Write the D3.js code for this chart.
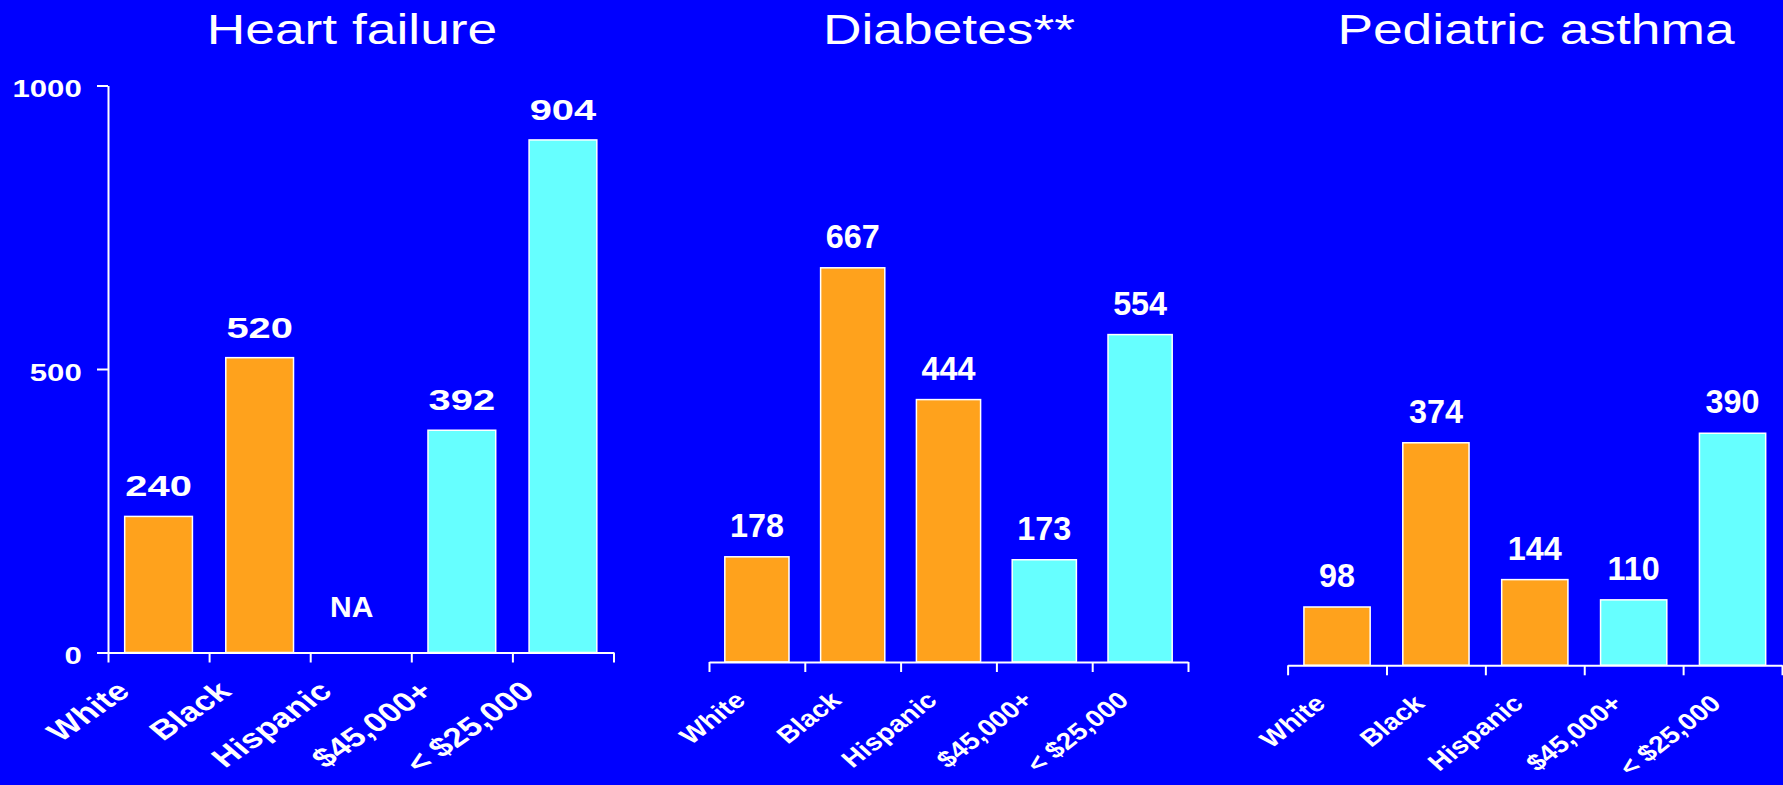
<!DOCTYPE html>
<html>
<head>
<meta charset="utf-8">
<script src="https://cdn.jsdelivr.net/npm/d3@7"></script>
<style>
  body { margin: 0; background: #0000ff; }
  text { font-family: "Liberation Sans", Arial, sans-serif; fill: #ffffff; }
  .axis path, .axis line { stroke: #ffffff; stroke-width: 2; }
</style>
</head>
<body>
<div id="chart"></div>
<script>
// Data
var categories = ["White", "Black", "Hispanic", "$45,000+", "< $25,000"];
var groups = ["race", "race", "race", "income", "income"];
var titles = ["Heart failure", "Diabetes**", "Pediatric asthma"];
var heartFailure = [240, 520, null, 392, 904];
var diabetes = [178, 667, 444, 173, 554];
var pediatricAsthma = [98, 374, 144, 110, 390];
var yTicks = [0, 500, 1000];

var series = [heartFailure, diabetes, pediatricAsthma];

// Layout
var WIDTH = 1783, HEIGHT = 785;
var COLORS = { race: "#ffa21c", income: "#66ffff" };
var PANELS = [
  { x0: 108, x1: 613.5, base: 652.5, top: 85.5, titleX: 352, yAxis: true,
    val: { size: 30, sx: 1.33 }, lab: { size: 27, sx: 1.3, rot: 42, dx: -27, dy: 41 } },
  { x0: 709, x1: 1188, base: 662, top: 71, titleX: 949, yAxis: false,
    val: { size: 33, sx: 0.98 }, lab: { size: 23.5, sx: 1.2, rot: 43, dx: -10, dy: 40 } },
  { x0: 1287.6, x1: 1782, base: 665.3, top: 70.3, titleX: 1536, yAxis: false,
    val: { size: 33, sx: 0.98 }, lab: { size: 23.5, sx: 1.2, rot: 43, dx: -10, dy: 40 } }
];

var svg = d3.select("#chart").append("svg")
  .attr("width", WIDTH)
  .attr("height", HEIGHT);

svg.append("rect")
  .attr("width", WIDTH).attr("height", HEIGHT)
  .attr("fill", "#0000ff");

PANELS.forEach(function(p, k) {
  var values = series[k];
  var g = svg.append("g");

  var x = d3.scaleBand()
    .domain(categories)
    .range([p.x0, p.x1])
    .paddingInner(0.33)
    .paddingOuter(0.165);

  var y = d3.scaleLinear()
    .domain([0, 1000])
    .range([p.base, p.top]);

  // tick positions sit on the band boundaries
  var edges = d3.scaleLinear().domain([0, categories.length]).range([p.x0, p.x1]);

  // title
  g.append("text")
    .attr("transform", "translate(" + p.titleX + ",43.5) scale(1.27,1)")
    .attr("text-anchor", "middle")
    .style("font-size", "42px")
    .text(titles[k]);

  // bars
  g.selectAll("rect.bar")
    .data(categories.map(function(c, i) { return { cat: c, v: values[i], grp: groups[i] }; })
      .filter(function(d) { return d.v != null; }))
    .enter().append("rect")
    .attr("class", "bar")
    .attr("x", function(d) { return x(d.cat); })
    .attr("y", function(d) { return y(d.v); })
    .attr("width", x.bandwidth())
    .attr("height", function(d) { return y(0) - y(d.v); })
    .attr("fill", function(d) { return COLORS[d.grp]; })
    .attr("stroke", "#ffffff")
    .attr("stroke-width", 1.5);

  // value labels
  categories.forEach(function(c, i) {
    var cx = x(c) + x.bandwidth() / 2;
    if (values[i] == null) {
      g.append("text")
        .attr("x", cx - 9)
        .attr("y", p.base - 36)
        .attr("text-anchor", "middle")
        .style("font-size", "30px")
        .style("font-weight", "bold")
        .text("NA");
      return;
    }
    g.append("text")
      .attr("transform", "translate(" + cx + "," + (y(values[i]) - 20) + ") scale(" + p.val.sx + ",1)")
      .attr("text-anchor", "middle")
      .style("font-size", p.val.size + "px")
      .style("font-weight", "bold")
      .text(values[i]);
  });

  // x axis
  g.append("g")
    .attr("class", "axis")
    .attr("transform", "translate(0," + p.base + ")")
    .call(d3.axisBottom(edges)
      .tickValues(d3.range(categories.length + 1))
      .tickSize(10)
      .tickSizeOuter(0)
      .tickFormat(""));

  // rotated category labels
  categories.forEach(function(c) {
    var ax = x(c) + x.bandwidth() / 2 + p.lab.dx;
    var ay = p.base + p.lab.dy;
    g.append("text")
      .attr("transform", "translate(" + ax + "," + ay + ") scale(" + p.lab.sx + ",1) rotate(" + (-p.lab.rot) + ")")
      .attr("text-anchor", "end")
      .style("font-size", p.lab.size + "px")
      .style("font-weight", "bold")
      .text(c);
  });

  // y axis (first panel only)
  if (p.yAxis) {
    var ya = g.append("g")
      .attr("class", "axis")
      .attr("transform", "translate(" + p.x0 + ",0)")
      .call(d3.axisLeft(y)
        .tickValues(yTicks)
        .tickSize(11)
        .tickSizeOuter(0)
        .tickFormat(d3.format("d")));
    ya.selectAll("text")
      .attr("x", null)
      .attr("dy", "0.45em")
      .attr("transform", "translate(-26.3,0) scale(1.27,1)")
      .attr("fill", "#ffffff")
      .style("font-size", "24.5px")
      .style("font-weight", "bold")
      .style("font-family", "'Liberation Sans', Arial, sans-serif");
  }
});
</script>
</body>
</html>
